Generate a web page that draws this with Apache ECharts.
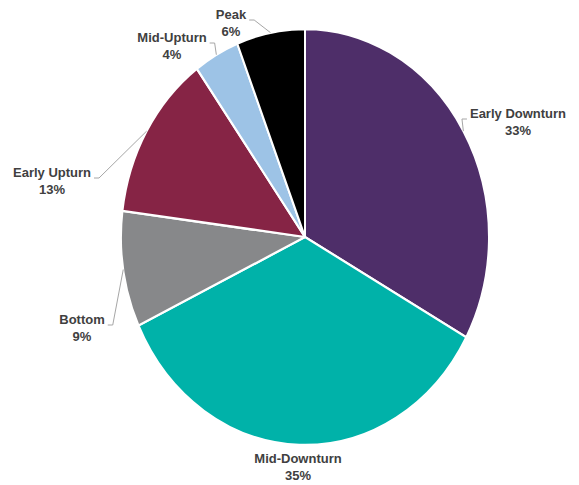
<!DOCTYPE html>
<html>
<head>
<meta charset="utf-8">
<script src="https://cdn.jsdelivr.net/npm/echarts@6/dist/echarts.min.js"></script>
<style>
  html, body { margin: 0; padding: 0; background: #ffffff; }
  #wrap { position: relative; width: 579px; height: 485px; overflow: hidden; }
  .layer { position: absolute; left: 0; top: 0; width: 579px; height: 485px; }
  /* the pie is drawn as an ellipse: stretch the slice layer vertically about the pie centre */
  #slices { transform: scaleY(1.1304); transform-origin: 0 237px; }
</style>
</head>
<body>
<div id="wrap">
  <div id="slices" class="layer"></div>
  <div id="labels" class="layer"></div>
</div>
<script>
// Share of time spent in each phase of the cycle (%)
const categories = ['Early Downturn', 'Mid-Downturn', 'Bottom', 'Early Upturn', 'Mid-Upturn', 'Peak'];
const shares = [33, 35, 9, 13, 4, 6];

// Slice colours
const palette = ['#4e2e69', '#00b2a9', '#87888a', '#862445', '#9dc3e6', '#000000'];

// Geometry of the pie and its vertical stretch
const CX = 305, CY = 237, R = 184, K = 1.1304;

// Label block centres and the side the leader line attaches to
const labelCentres = [[518, 122], [298, 467], [82, 328], [52, 181], [172, 46], [231, 23]];
const leaderSide = ['left', null, 'right', 'right', 'right', 'right'];

const pieData = categories.map((name, i) => ({
  name: name,
  value: shares[i],
  labelLine: { show: leaderSide[i] !== null }
}));

// Layer 1: the slices
const slices = echarts.init(document.getElementById('slices'), null, { renderer: 'svg' });
slices.setOption({
  animation: false,
  color: palette,
  series: [{
    type: 'pie',
    center: [CX, CY],
    radius: R,
    startAngle: 90,
    clockwise: true,
    data: pieData,
    label: { show: false },
    labelLine: { show: false },
    itemStyle: { borderColor: '#ffffff', borderWidth: 2 },
    emphasis: { disabled: true }
  }]
});

// Layer 2: category labels with leader lines, matched to the stretched slices
const labels = echarts.init(document.getElementById('labels'), null, { renderer: 'svg' });
labels.setOption({
  animation: false,
  series: [{
    type: 'pie',
    center: [CX, CY],
    radius: R,
    startAngle: 90,
    clockwise: true,
    silent: true,
    avoidLabelOverlap: false,
    data: pieData,
    itemStyle: { color: 'rgba(0,0,0,0)', borderWidth: 0 },
    label: {
      show: true,
      position: 'outside',
      formatter: '{b}\n{c}%',
      fontFamily: 'Liberation Sans, Arial, sans-serif',
      fontWeight: 'bold',
      fontSize: 13,
      lineHeight: 17,
      color: '#404040',
      align: 'center'
    },
    labelLine: {
      show: true,
      length: 10,
      length2: 10,
      lineStyle: { color: '#a6a6a6', width: 1 }
    },
    labelLayout: function (params) {
      const i = params.dataIndex;
      const c = labelCentres[i];
      const out = { x: c[0], y: c[1], align: 'center', verticalAlign: 'middle' };
      const side = leaderSide[i];
      if (side && params.labelLinePoints) {
        const p0 = params.labelLinePoints[0];
        const edge = [p0[0], CY + (p0[1] - CY) * K];
        const half = params.labelRect.width / 2;
        const attachY = c[1] - 17 + 14;
        let ax, ex;
        if (side === 'right') { ax = c[0] + half + 3; ex = ax + 5; }
        else { ax = c[0] - half - 3; ex = ax - 5; }
        out.labelLinePoints = [edge, [ex, attachY], [ax, attachY]];
      }
      return out;
    },
    emphasis: { disabled: true }
  }]
});
</script>
</body>
</html>
